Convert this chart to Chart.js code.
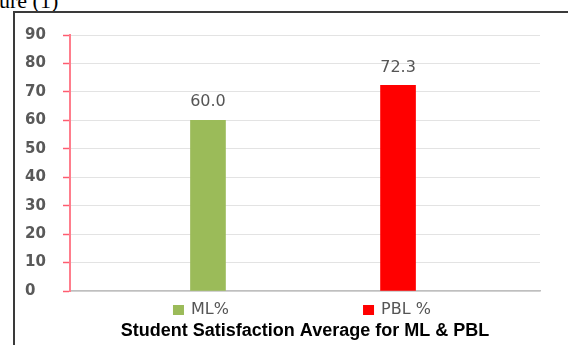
<!DOCTYPE html>
<html>
<head>
<meta charset="utf-8">
<script src="https://cdn.jsdelivr.net/npm/chart.js@4.4.1/dist/chart.umd.min.js"></script>
<style>
  html, body { margin: 0; padding: 0; background: #fff; width: 568px; height: 345px; overflow: hidden; }
  .caption { position: absolute; left: -1px; top: -10px; font: 22px "Liberation Serif", "Times New Roman", serif; line-height: 22px; color: #000; white-space: nowrap; }
  .frame { position: absolute; left: 13px; top: 11px; width: 620px; height: 400px; border-left: 2px solid #3a3a3a; border-top: 2px solid #3a3a3a; }
  .wrap { position: absolute; left: 16px; top: 14px; width: 552px; height: 331px; }
</style>
</head>
<body>
<div class="caption">ure (1)</div>
<div class="frame"></div>
<div class="wrap"><canvas id="chart"></canvas></div>
<script>
const categories = ['ML%', 'PBL %'];
const satisfaction = [60.0, 72.3];
const barColors = ['#9bbb59', '#ff0000'];
const chartTitle = 'Student Satisfaction Average for ML & PBL';
const yMax = 90;
const yStep = 10;

const labelFont = '16px "DejaVu Sans", sans-serif';
const grey = '#555555';

// value labels, legend and title drawn next to the bars
const extras = {
    id: 'extras',
    afterDatasetsDraw(chart) {
        const ctx = chart.ctx;
        const bars = chart.getDatasetMeta(0).data;
        ctx.save();
        ctx.font = labelFont;
        ctx.fillStyle = grey;
        ctx.textAlign = 'center';
        ctx.textBaseline = 'middle';
        bars.forEach((bar, i) => {
            ctx.fillText(satisfaction[i].toFixed(1), bar.x, bar.y - 18);
        });
        ctx.restore();
    },
    afterDraw(chart) {
        const ctx = chart.ctx;
        const area = chart.chartArea;
        const bars = chart.getDatasetMeta(0).data;
        ctx.save();
        ctx.font = labelFont;
        ctx.textBaseline = 'middle';
        ctx.textAlign = 'left';
        const legendY = area.bottom + 19;
        bars.forEach((bar, i) => {
            ctx.fillStyle = barColors[i];
            ctx.fillRect(bar.x - 35, legendY - 5, 11, 10);
            ctx.fillStyle = grey;
            ctx.fillText(categories[i], bar.x - 17, legendY);
        });
        ctx.font = 'bold 18px "Liberation Sans", Arial, sans-serif';
        ctx.fillStyle = '#000';
        ctx.textAlign = 'center';
        ctx.fillText(chartTitle, (area.left + area.right) / 2, area.bottom + 40);
        ctx.restore();
    }
};

new Chart(document.getElementById('chart'), {
    type: 'bar',
    data: {
        datasets: [{
            data: categories.map((c, i) => ({ x: i + 1, y: satisfaction[i] })),
            backgroundColor: barColors,
            borderWidth: 0,
            barThickness: 35
        }]
    },
    options: {
        responsive: true,
        maintainAspectRatio: false,
        animation: false,
        layout: { padding: { left: 9, right: 28, top: 21, bottom: 54 } },
        plugins: {
            legend: { display: false },
            tooltip: { enabled: false }
        },
        scales: {
            x: {
                type: 'linear',
                offset: false,
                min: 0.274,
                max: 2.747,
                ticks: { display: false },
                grid: { display: false, drawTicks: false },
                border: { color: '#bfbfbf', width: 1.5 },
                afterFit: (s) => { s.height = 0; }
            },
            y: {
                min: 0,
                max: yMax,
                ticks: {
                    stepSize: yStep,
                    color: '#595959',
                    font: { family: '"DejaVu Sans", sans-serif', size: 15, weight: 'bold' },
                    crossAlign: 'far',
                    padding: 0
                },
                grid: { color: '#e3e3e3', tickLength: 7, tickColor: '#ff5c70', tickWidth: 1.5 },
                border: { color: '#ff7d8c', width: 2 },
                afterFit: (s) => { s.width = 45; }
            }
        }
    },
    plugins: [extras]
});
</script>
</body>
</html>
